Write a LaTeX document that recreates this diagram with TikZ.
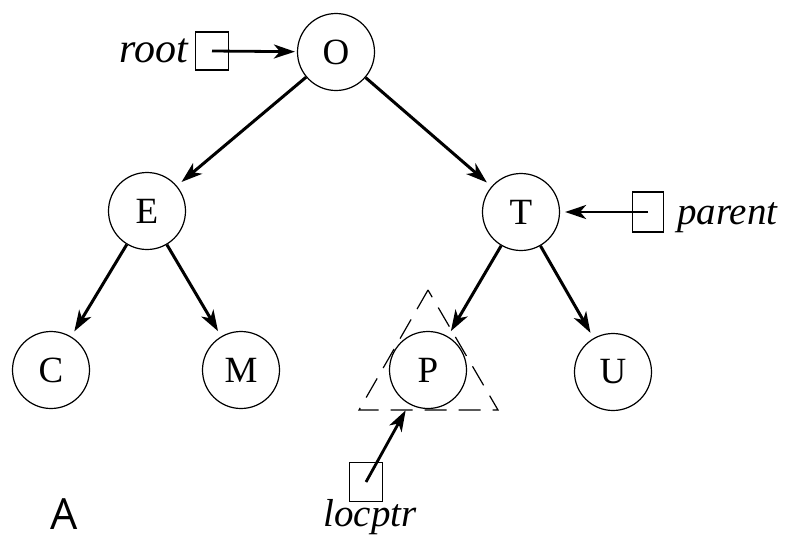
\documentclass[tikz,border=0pt]{standalone}
\usepackage{fontspec}
\setmainfont{Liberation Serif}
\newfontfamily\sansA{Open Sans}
\usetikzlibrary{arrows.meta}
\begin{document}
\begin{tikzpicture}[x=1pt,y=-1pt,
  tnode/.style={circle,draw,line width=1.2pt,minimum size=77pt,inner sep=0pt,font=\fontsize{37}{37}\selectfont},
  ptrbox/.style={draw,line width=1.4pt,minimum width=33pt,minimum height=38pt,inner sep=0pt},
  lbl/.style={font=\fontsize{39}{39}\selectfont\itshape,inner sep=0pt},
  link/.style={line width=3pt,-{Stealth[length=21pt,width=14pt,inset=6pt]},shorten >=6pt},
  ptr/.style={line width=2.8pt,-{Stealth[length=21pt,width=14pt,inset=6pt]}}
]
\useasboundingbox (0,0) rectangle (792,542);
\node[tnode] (O) at (336,52) {O};
\node[tnode] (E) at (147,211) {E};
\node[tnode] (T) at (521,212) {T};
\node[tnode] (C) at (51,370) {C};
\node[tnode] (M) at (241,370) {M};
\node[tnode] (P) at (428,370) {P};
\node[tnode] (U) at (613,372) {U};
\draw[link] (O) -- (E);
\draw[link] (O) -- (T);
\draw[link] (E) -- (C);
\draw[link] (E) -- (M);
\draw[link] (T) -- (P);
\draw[link] (T) -- (U);
% root pointer
\node[ptrbox] (rbox) at (212,51) {};
\node[lbl,font=\fontsize{42}{42}\selectfont\itshape,anchor=base east] (rlbl) at (188,62) {root};
\draw[ptr,shorten >=2pt] (rbox.center) -- (O);
% parent pointer
\node[ptrbox,minimum width=31pt,minimum height=40pt] (pbox) at (648,212) {};
\node[lbl,anchor=base west] (plbl) at (677,224) {parent};
\draw[ptr,shorten >=5pt] (pbox.center) -- (T);
% locptr
\node[ptrbox,minimum height=39pt] (lbox) at (366,482) {};
\node[lbl,anchor=base] (llbl) at (370,526) {locptr};
\draw[ptr,shorten >=7pt] (lbox.center) -- (P);
% dashed triangle
\coordinate (ta) at (428,290);
\coordinate (tb) at (359,410);
\coordinate (tc) at (498,410);
\draw[line width=1.2pt,dash pattern=on 22pt off 12pt] (ta) -- (tb) -- (tc) -- cycle;
% caption
\node[font=\sansA\fontsize{43}{43}\selectfont,anchor=base west,inner sep=0pt] (cap) at (50,529) {A};
\end{tikzpicture}
\end{document}
